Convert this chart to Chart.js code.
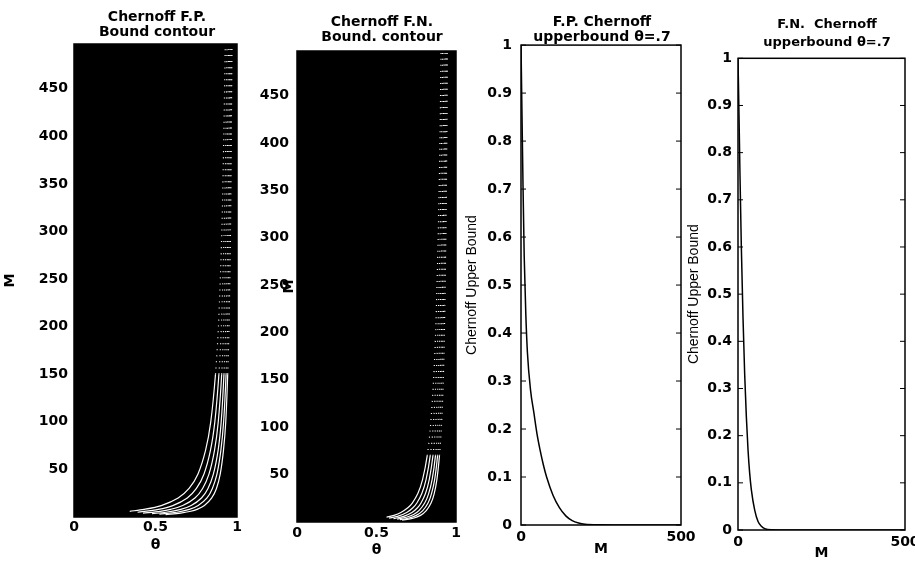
<!DOCTYPE html>
<html>
<head>
<meta charset="utf-8">
<title>Chernoff bounds</title>
<script src="https://cdn.jsdelivr.net/npm/chart.js@4.4.1/dist/chart.umd.min.js"></script>
<style>
  html, body { margin: 0; padding: 0; background: #fff; overflow: hidden; }
  #wrap { position: relative; width: 915px; height: 563px; overflow: hidden; }
  #wrap canvas { position: absolute; top: 0; }
</style>
</head>
<body>
<div id="wrap">
  <canvas id="fp-contour"></canvas>
  <canvas id="fn-contour"></canvas>
  <canvas id="fp-bound"></canvas>
  <canvas id="fn-bound"></canvas>
</div>
<script>
// tick labels
const thetaTicks = [0, 0.5, 1];
const contourMTicks = [50, 100, 150, 200, 250, 300, 350, 400, 450];
const boundTicks = [0, 0.1, 0.2, 0.3, 0.4, 0.5, 0.6, 0.7, 0.8, 0.9, 1];
const mTicks = [0, 500];

// F.P. contour lines, [theta, M]
const fpContour1 = [[0.342,6],[0.430,8],[0.535,12],[0.639,20],[0.706,30],[0.760,45],[0.807,70],[0.839,100],[0.868,150],[0.886,200],[0.907,300],[0.919,400],[0.928,495]];
const fpContour2 = [[0.390,5],[0.518,8],[0.606,12],[0.695,20],[0.751,30],[0.797,45],[0.837,70],[0.864,100],[0.889,150],[0.904,200],[0.921,300],[0.932,400],[0.939,495]];
const fpContour3 = [[0.423,4],[0.529,6],[0.592,8],[0.667,12],[0.742,20],[0.789,30],[0.828,45],[0.862,70],[0.885,100],[0.906,150],[0.918,200],[0.933,300],[0.942,400],[0.948,495]];
const fpContour4 = [[0.479,3.5],[0.564,5],[0.655,8],[0.719,12],[0.782,20],[0.822,30],[0.855,45],[0.884,70],[0.903,100],[0.920,150],[0.931,200],[0.944,300],[0.951,400],[0.956,495]];
const fpContour5 = [[0.524,3],[0.631,5],[0.708,8],[0.762,12],[0.816,20],[0.849,30],[0.877,45],[0.901,70],[0.918,100],[0.933,150],[0.942,200],[0.952,300],[0.959,400],[0.963,495]];
const fpContour6 = [[0.562,2.5],[0.654,4],[0.717,6],[0.755,8],[0.800,12],[0.845,20],[0.874,30],[0.897,45],[0.917,70],[0.931,100],[0.943,150],[0.951,200],[0.960,300],[0.965,400],[0.969,495]];

// F.N. contour lines
const fnContour1 = [[0.563,5],[0.610,7],[0.653,10],[0.697,15],[0.725,20],[0.760,30],[0.790,45],[0.819,70],[0.839,100],[0.859,150],[0.872,200],[0.888,300],[0.899,400],[0.906,495]];
const fnContour2 = [[0.579,4],[0.632,6],[0.690,10],[0.729,15],[0.754,20],[0.785,30],[0.812,45],[0.838,70],[0.856,100],[0.874,150],[0.886,200],[0.900,300],[0.909,400],[0.916,495]];
const fnContour3 = [[0.607,3.5],[0.671,6],[0.723,10],[0.758,15],[0.780,20],[0.808,30],[0.832,45],[0.855,70],[0.871,100],[0.888,150],[0.898,200],[0.911,300],[0.919,400],[0.925,495]];
const fnContour4 = [[0.630,3],[0.688,5],[0.733,8],[0.767,12],[0.803,20],[0.828,30],[0.850,45],[0.871,70],[0.885,100],[0.900,150],[0.909,200],[0.920,300],[0.928,400],[0.933,495]];
const fnContour5 = [[0.648,2.5],[0.699,4],[0.750,7],[0.791,12],[0.824,20],[0.846,30],[0.866,45],[0.884,70],[0.897,100],[0.910,150],[0.918,200],[0.929,300],[0.935,400],[0.940,495]];
const fnContour6 = [[0.661,2],[0.731,4],[0.777,7],[0.813,12],[0.843,20],[0.863,30],[0.880,45],[0.896,70],[0.908,100],[0.920,150],[0.927,200],[0.936,300],[0.942,400],[0.946,495]];

// upper bound curves, theta = .7
const fpM = [0, 3, 6, 10, 15, 20, 30, 40, 50, 60, 70, 80, 100, 120, 140, 160, 180, 200, 250, 300, 400, 500];
const fpBound = [1.0, 0.86, 0.72, 0.56, 0.44, 0.36, 0.28, 0.235, 0.19, 0.155, 0.125, 0.10, 0.062, 0.036, 0.019, 0.009, 0.004, 0.0015, 0.0003, 0.0001, 0, 0];
const fnM = [0, 3, 6, 10, 15, 20, 25, 30, 35, 40, 50, 60, 70, 80, 100, 150, 200, 300, 500];
const fnBound = [1.0, 0.88, 0.75, 0.6, 0.45, 0.33, 0.24, 0.17, 0.12, 0.085, 0.042, 0.018, 0.008, 0.003, 0.0005, 0, 0, 0, 0];

const canvasH = 563;
const tickFont = { family: 'DejaVu Sans', size: 14, weight: 'bold' };

// 검은 배경 (contour)
const blackField = {
  id: 'blackField',
  beforeDatasetsDraw(chart, args, opts) {
    if (!opts.on) return;
    const a = chart.chartArea, ctx = chart.ctx;
    ctx.save();
    ctx.fillStyle = '#000';
    ctx.fillRect(a.left, a.top, a.right - a.left, a.bottom - a.top);
    ctx.restore();
  }
};

// 테두리와 안쪽 눈금
const frame = {
  id: 'frame',
  afterDatasetsDraw(chart, args, opts) {
    const { ctx, chartArea: a, scales } = chart;
    ctx.save();
    ctx.strokeStyle = '#000';
    ctx.lineWidth = 1.5;
    ctx.strokeRect(a.left, a.top, a.right - a.left, a.bottom - a.top);
    if (opts.ticks) {
      ctx.lineWidth = 1;
      ctx.beginPath();
      scales.y.ticks.forEach(t => {
        const y = scales.y.getPixelForValue(t.value);
        ctx.moveTo(a.left, y); ctx.lineTo(a.left + 5, y);
        ctx.moveTo(a.right, y); ctx.lineTo(a.right - 5, y);
      });
      ctx.stroke();
    }
    ctx.restore();
  }
};

// 축 제목을 눈금과 축 사이에 그리는 경우
const sideLabel = {
  id: 'sideLabel',
  afterDraw(chart, args, opts) {
    if (!opts.text) return;
    const ctx = chart.ctx, a = chart.chartArea;
    ctx.save();
    ctx.translate(a.left + opts.dx, (a.top + a.bottom) / 2);
    ctx.rotate(-Math.PI / 2);
    ctx.font = 'bold 14px "DejaVu Sans"';
    ctx.fillStyle = '#000';
    ctx.textAlign = 'center';
    ctx.textBaseline = 'middle';
    ctx.fillText(opts.text, 0, 0);
    ctx.restore();
  }
};

function contourSets(lines, dotFrom) {
  return lines.map(line => ({
    data: line.map(p => ({ x: p[0], y: p[1] })),
    borderColor: '#fff',
    borderWidth: 1.2,
    pointRadius: 0,
    tension: 0.3,
    segment: { borderDash: c => c.p0.parsed.y >= dotFrom ? [1, 5] : undefined }
  }));
}

function curveSet(ms, vals) {
  return [{
    data: ms.map((m, i) => ({ x: m, y: vals[i] })),
    borderColor: '#000',
    borderWidth: 1.5,
    pointRadius: 0,
    cubicInterpolationMode: 'monotone'
  }];
}

function buildPanel(p) {
  const canvas = document.getElementById(p.id);
  canvas.width = p.width;
  canvas.height = canvasH;
  canvas.style.left = p.left + 'px';
  const rightGap = p.left + p.width - p.area.right;
  return new Chart(canvas.getContext('2d'), {
    type: 'line',
    data: { datasets: p.datasets },
    plugins: [blackField, frame, sideLabel],
    options: {
      responsive: false,
      animation: false,
      devicePixelRatio: 1,
      layout: { padding: 0 },
      plugins: {
        legend: { display: false },
        tooltip: { enabled: false },
        blackField: { on: p.black },
        frame: { ticks: !p.black },
        sideLabel: p.sideLabel || {},
        title: {
          display: true,
          text: p.title,
          color: '#000',
          font: p.titleFont,
          padding: { top: p.titlePad[0], bottom: p.titlePad[1] }
        }
      },
      scales: {
        x: {
          type: 'linear',
          min: p.xRange[0], max: p.xRange[1],
          grid: { display: false, drawTicks: false },
          border: { display: false },
          afterBuildTicks: s => { s.ticks = p.xTicks.map(v => ({ value: v })); },
          afterFit: s => { s.height = canvasH - p.area.bottom; },
          ticks: { color: '#000', font: tickFont, padding: p.xTickPad, autoSkip: false, maxRotation: 0, callback: v => String(v) },
          title: { display: true, text: p.xTitle, color: '#000', font: tickFont, padding: { top: 0, bottom: p.xTitlePad } }
        },
        y: {
          type: 'linear',
          min: p.yRange[0], max: p.yRange[1],
          grid: { display: false, drawTicks: false },
          border: { display: false },
          afterBuildTicks: s => { s.ticks = p.yTicks.map(v => ({ value: v })); },
          afterFit: s => { s.width = p.area.left - p.left; },
          ticks: { color: '#000', font: tickFont, padding: p.yTickPad, autoSkip: false, callback: v => String(v) },
          title: { display: !!p.yTitle, text: p.yTitle, color: '#000', font: p.yTitleFont || tickFont, padding: { top: p.yTitlePad, bottom: 0 } }
        },
        // 오른쪽 빈 공간 (제목이 캔버스 가운데 오도록)
        yRight: {
          type: 'linear',
          position: 'right',
          min: p.yRange[0], max: p.yRange[1],
          grid: { display: false, drawTicks: false },
          border: { display: false },
          ticks: { display: false },
          afterFit: s => { s.width = rightGap; }
        }
      }
    }
  });
}

const titleFont = { family: 'DejaVu Sans', size: 14, weight: 'bold', lineHeight: 1.1 };
const boundLabelFont = { family: 'Liberation Sans', size: 14, lineHeight: 1.2 };

document.addEventListener('DOMContentLoaded', function () {
  buildPanel({
    id: 'fp-contour', left: 0, width: 314,
    area: { left: 74, right: 237, bottom: 517 },
    title: ['Chernoff F.P.', 'Bound contour'], titleFont: titleFont, titlePad: [9.3, 3.9],
    black: true,
    datasets: contourSets([fpContour1, fpContour2, fpContour3, fpContour4, fpContour5, fpContour6], 130),
    xRange: [0, 1], xTicks: thetaTicks, xTickPad: 1.6, xTitle: 'θ', xTitlePad: 9.6,
    yRange: [0, 497], yTicks: contourMTicks, yTickPad: 6, yTitle: 'M', yTitlePad: 1.6
  });
  buildPanel({
    id: 'fn-contour', left: 250, width: 264,
    area: { left: 297, right: 456, bottom: 522 },
    title: ['Chernoff F.N.', 'Bound. contour'], titleFont: titleFont, titlePad: [14.3, 5.9],
    black: true,
    datasets: contourSets([fnContour1, fnContour2, fnContour3, fnContour4, fnContour5, fnContour6], 70),
    xRange: [0, 1], xTicks: thetaTicks, xTickPad: 2.6, xTitle: 'θ', xTitlePad: 4.6,
    yRange: [0, 497], yTicks: contourMTicks, yTickPad: 8, yTitle: '',
    sideLabel: { text: 'M', dx: -8 }
  });
  buildPanel({
    id: 'fp-bound', left: 460, width: 284,
    area: { left: 521, right: 681, bottom: 525 },
    title: ['F.P. Chernoff', 'upperbound θ=.7'], titleFont: titleFont, titlePad: [14.3, 0],
    black: false,
    datasets: curveSet(fpM, fpBound),
    xRange: [0, 500], xTicks: mTicks, xTickPad: 3.6, xTitle: 'M', xTitlePad: 5.6,
    yRange: [0, 1], yTicks: boundTicks, yTickPad: 9, yTitle: 'Chernoff Upper Bound', yTitleFont: boundLabelFont, yTitlePad: 4.2
  });
  buildPanel({
    id: 'fn-bound', left: 680, width: 294,
    area: { left: 738, right: 905, bottom: 530 },
    title: ['F.N.  Chernoff', 'upperbound θ=.7'], titleFont: { family: 'DejaVu Sans', size: 13, weight: 'bold', lineHeight: 1.35 }, titlePad: [16.3, 6.9],
    black: false,
    datasets: curveSet(fnM, fnBound),
    xRange: [0, 500], xTicks: mTicks, xTickPad: 3.6, xTitle: 'M', xTitlePad: 1,
    yRange: [0, 1], yTicks: boundTicks, yTickPad: 6, yTitle: 'Chernoff Upper Bound', yTitleFont: boundLabelFont, yTitlePad: 6.2
  });
});
</script>
</body>
</html>
